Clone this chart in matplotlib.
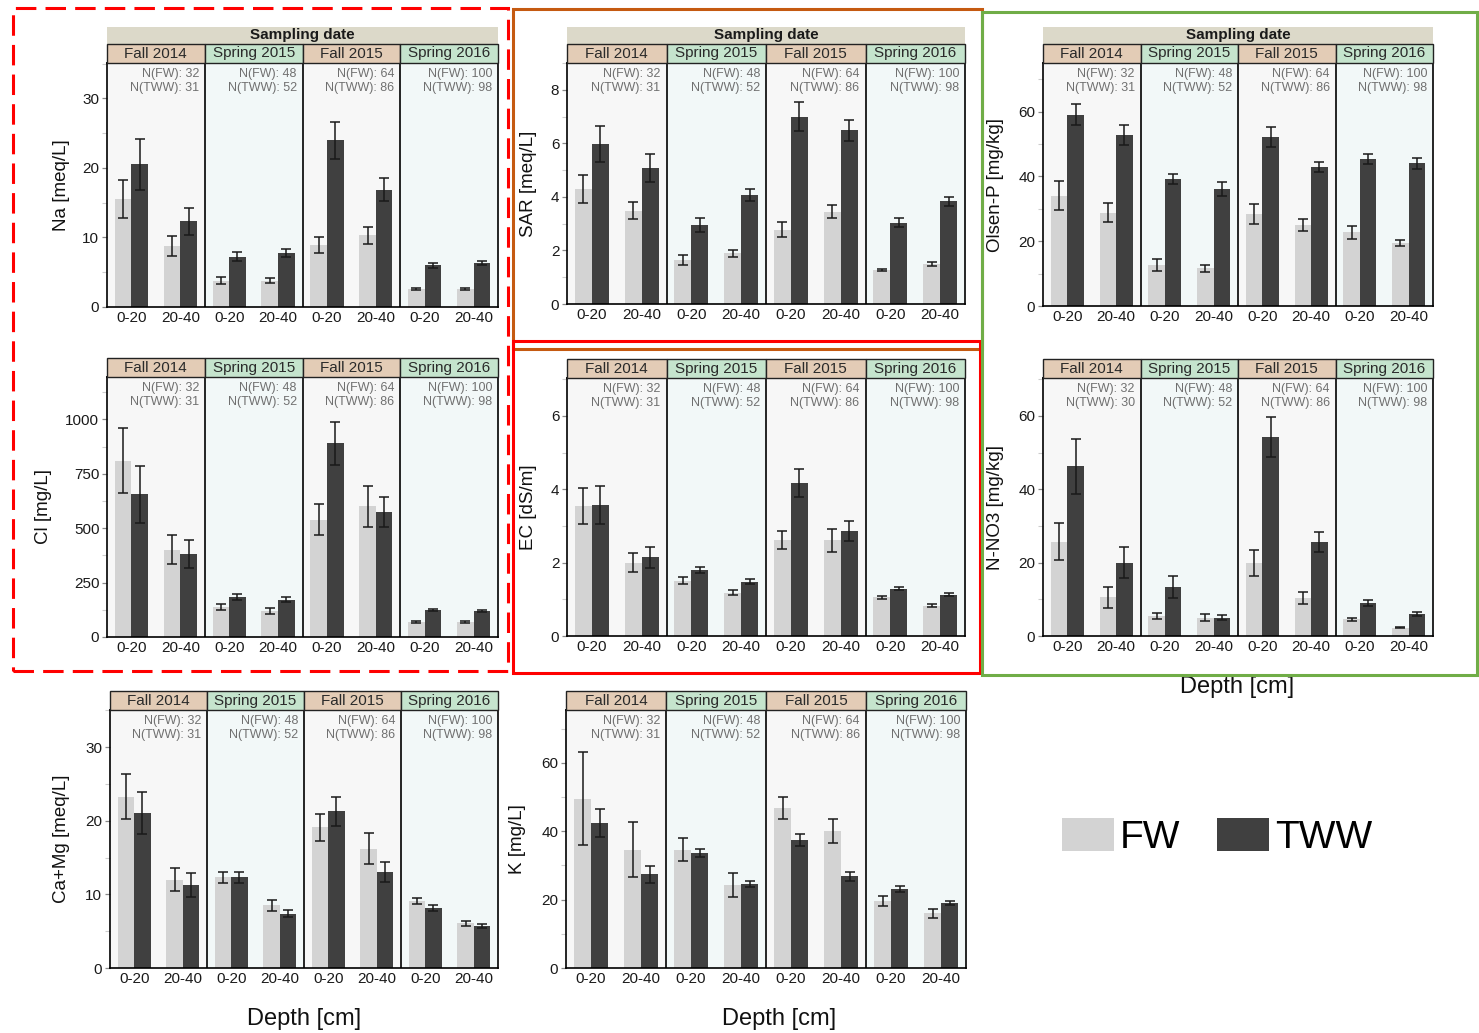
import numpy as np
import matplotlib
matplotlib.use("Agg")
import matplotlib.pyplot as plt
from matplotlib.patches import Rectangle, Patch
from matplotlib.transforms import blended_transform_factory

plt.rcParams['font.family'] = ['Liberation Sans', 'DejaVu Sans']

W, H = 1479, 1033
fig = plt.figure(figsize=(W / 100, H / 100), dpi=100)

# ---------------------------------------------------------------- data
seasons = ["Fall 2014", "Spring 2015", "Fall 2015", "Spring 2016"]
depths = ["0-20", "20-40"]
n_fw = [32, 48, 64, 100]
n_tww = [31, 52, 86, 98]
n_tww_no3 = [30, 52, 86, 98]

# order: F14 0-20, F14 20-40, S15 0-20, S15 20-40, F15 0-20, F15 20-40, S16 0-20, S16 20-40
na_fw = [15.5, 8.8, 3.8, 3.8, 8.9, 10.3, 2.6, 2.6]
na_fw_se = [2.7, 1.4, 0.55, 0.4, 1.1, 1.25, 0.1, 0.1]
na_tww = [20.5, 12.3, 7.2, 7.8, 24.0, 16.9, 6.0, 6.3]
na_tww_se = [3.6, 1.9, 0.65, 0.55, 2.65, 1.6, 0.4, 0.3]

sar_fw = [4.31, 3.48, 1.64, 1.89, 2.78, 3.45, 1.27, 1.50]
sar_fw_se = [0.52, 0.32, 0.19, 0.14, 0.29, 0.25, 0.05, 0.07]
sar_tww = [5.97, 5.07, 2.94, 4.07, 7.00, 6.48, 3.04, 3.83]
sar_tww_se = [0.68, 0.53, 0.26, 0.22, 0.53, 0.40, 0.16, 0.17]

olsenp_fw = [34.1, 28.8, 12.7, 11.6, 28.3, 25.0, 22.7, 19.5]
olsenp_fw_se = [4.6, 3.0, 1.8, 1.2, 3.1, 1.9, 2.1, 1.0]
olsenp_tww = [59.0, 52.8, 39.2, 36.1, 52.1, 43.0, 45.3, 44.0]
olsenp_tww_se = [3.2, 3.2, 1.6, 2.1, 3.0, 1.5, 1.5, 1.6]

cl_fw = [810, 402, 138, 120, 540, 601, 69, 69]
cl_fw_se = [150, 65, 15, 14, 71, 94, 3, 3]
cl_tww = [656, 380, 184, 172, 890, 575, 123, 118]
cl_tww_se = [130, 65, 12, 10, 100, 69, 5, 4]

ec_fw = [3.54, 2.00, 1.51, 1.18, 2.61, 2.61, 1.05, 0.82]
ec_fw_se = [0.49, 0.25, 0.09, 0.07, 0.24, 0.31, 0.03, 0.04]
ec_tww = [3.57, 2.14, 1.81, 1.48, 4.17, 2.86, 1.29, 1.13]
ec_tww_se = [0.52, 0.29, 0.08, 0.07, 0.39, 0.26, 0.04, 0.03]

no3_fw = [25.7, 10.5, 5.4, 5.0, 19.8, 10.4, 4.5, 2.3]
no3_fw_se = [5.1, 2.95, 0.9, 1.0, 3.5, 1.6, 0.5, 0.1]
no3_tww = [46.3, 20.0, 13.4, 5.0, 54.3, 25.6, 8.9, 6.0]
no3_tww_se = [7.5, 4.2, 3.0, 0.6, 5.4, 2.8, 0.8, 0.5]

camg_fw = [23.3, 12.0, 12.3, 8.5, 19.1, 16.2, 9.1, 6.1]
camg_fw_se = [3.0, 1.6, 0.8, 0.7, 1.8, 2.1, 0.45, 0.35]
camg_tww = [21.1, 11.3, 12.3, 7.4, 21.3, 13.0, 8.2, 5.7]
camg_tww_se = [2.85, 1.6, 0.7, 0.5, 2.0, 1.35, 0.4, 0.25]

k_fw = [49.6, 34.6, 34.6, 24.4, 46.8, 40.1, 19.5, 16.0]
k_fw_se = [13.6, 8.0, 3.4, 3.5, 3.2, 3.6, 1.5, 1.3]
k_tww = [42.4, 27.4, 33.6, 24.6, 37.5, 26.8, 23.0, 19.0]
k_tww_se = [4.2, 2.4, 1.1, 1.0, 1.8, 1.4, 0.9, 0.7]

# ---------------------------------------------------------------- style
FW_COLOR = "#d3d3d3"
TWW_COLOR = "#404040"
FALL_STRIP = "#e3ccb6"
SPRING_STRIP = "#c5e4cd"
HEADER_STRIP = "#dcd9c9"
FALL_BG = "#f7f7f7"
SPRING_BG = "#f2f8f8"
BAR_W = 0.17
GROUP_POS = np.array([0.25, 0.75])


def px_box(x0, y0, x1, y1):
    return [x0 / W, 1 - y1 / H, (x1 - x0) / W, (y1 - y0) / H]


def draw_panel(box, fw, fw_se, tww, tww_se, ylabel, ylim, major, minor,
               ntww, label_x, header=False):
    x0, y0, x1, y1 = box
    hpx = y1 - y0
    ax = fig.add_axes(px_box(*box))
    ax.set_xlim(0, 4)
    ax.set_ylim(*ylim)

    facet = np.repeat(np.arange(4), 2)
    centers = facet + np.tile(GROUP_POS, 4)
    x_fw = centers - BAR_W / 2
    x_tww = centers + BAR_W / 2

    for i, s in enumerate(seasons):
        ax.axvspan(i, i + 1, color=FALL_BG if s.startswith("Fall") else SPRING_BG,
                   lw=0, zorder=0)

    ax.bar(x_fw, fw, width=BAR_W, color=FW_COLOR, zorder=2)
    ax.bar(x_tww, tww, width=BAR_W, color=TWW_COLOR, zorder=2)
    err_kw = dict(fmt="none", ecolor="#1a1a1a", elinewidth=1.1,
                  capsize=3.6, capthick=1.1, zorder=3)
    ax.errorbar(x_fw, fw, yerr=fw_se, **err_kw)
    ax.errorbar(x_tww, tww, yerr=tww_se, **err_kw)

    for xv in (1, 2, 3):
        ax.axvline(xv, color="black", lw=1.2, zorder=4)
    for sp in ax.spines.values():
        sp.set_color("black")
        sp.set_linewidth(1.2)
        sp.set_zorder(5)

    ax.set_xticks(centers)
    ax.set_xticklabels(depths * 4)
    ax.set_yticks(major)
    ax.set_yticks(minor, minor=True)
    ax.tick_params(axis="x", length=0, pad=3, labelsize=11, labelcolor="#1a1a1a")
    ax.tick_params(axis="y", which="major", length=3.5, width=0.9, color="#888888",
                   pad=2, labelsize=11, labelcolor="#1a1a1a")
    ax.tick_params(axis="y", which="minor", length=3.5, width=0.8, color="#cccccc")

    ax.set_ylabel(ylabel, fontsize=13.5, color="#111111")
    ax.yaxis.set_label_coords((label_x - x0) / (x1 - x0), 0.5)

    trans = blended_transform_factory(ax.transData, ax.transAxes)
    sh = 19 / hpx
    for i, s in enumerate(seasons):
        ax.add_patch(Rectangle((i, 1), 1, sh, transform=trans, clip_on=False,
                               facecolor=FALL_STRIP if s.startswith("Fall") else SPRING_STRIP,
                               edgecolor="#222222", lw=1.0, zorder=6))
        ax.text(i + 0.5, 1 + sh / 2, s, transform=trans, ha="center", va="center",
                fontsize=11, color="#2a2a2a", zorder=7)
        ax.text(i + 0.94, 1 - 11 / hpx, f"N(FW): {n_fw[i]}", transform=trans,
                ha="right", va="center", fontsize=9, color="#707070", zorder=7)
        ax.text(i + 0.94, 1 - 25 / hpx, f"N(TWW): {ntww[i]}", transform=trans,
                ha="right", va="center", fontsize=9, color="#707070", zorder=7)
    if header:
        hh = 17 / hpx
        ax.add_patch(Rectangle((0, 1 + sh), 4, hh, transform=trans, clip_on=False,
                               facecolor=HEADER_STRIP, edgecolor="none", zorder=5))
        ax.text(2, 1 + sh + hh / 2, "Sampling date", transform=trans, ha="center",
                va="center", fontsize=11, fontweight="bold", color="#1a1a1a", zorder=7)
    return ax


# ---------------------------------------------------------------- panels
draw_panel((107, 63, 498, 307), na_fw, na_fw_se, na_tww, na_tww_se,
           "Na [meq/L]", (0, 35.1), [0, 10, 20, 30], [5, 15, 25, 35],
           n_tww, 70, header=True)
draw_panel((567, 63, 965, 304), sar_fw, sar_fw_se, sar_tww, sar_tww_se,
           "SAR [meq/L]", (0, 9.0), [0, 2, 4, 6, 8], [1, 3, 5, 7, 9],
           n_tww, 537, header=True)
draw_panel((1043, 63, 1433, 306), olsenp_fw, olsenp_fw_se, olsenp_tww, olsenp_tww_se,
           "Olsen-P [mg/kg]", (0, 75), [0, 20, 40, 60], [10, 30, 50, 70],
           n_tww, 1004, header=True)
draw_panel((107, 377, 498, 637), cl_fw, cl_fw_se, cl_tww, cl_tww_se,
           "Cl [mg/L]", (0, 1195), [0, 250, 500, 750, 1000], [125, 375, 625, 875, 1125],
           n_tww, 52)
draw_panel((567, 378, 965, 636), ec_fw, ec_fw_se, ec_tww, ec_tww_se,
           "EC [dS/m]", (0, 7.03), [0, 2, 4, 6], [1, 3, 5, 7],
           n_tww, 537)
draw_panel((1043, 378, 1433, 636), no3_fw, no3_fw_se, no3_tww, no3_tww_se,
           "N-NO3 [mg/kg]", (0, 70.3), [0, 20, 40, 60], [10, 30, 50, 70],
           n_tww_no3, 1004)
draw_panel((110, 710, 498, 968), camg_fw, camg_fw_se, camg_tww, camg_tww_se,
           "Ca+Mg [meq/L]", (0, 35.06), [0, 10, 20, 30], [5, 15, 25, 35],
           n_tww, 70)
draw_panel((566, 710, 966, 968), k_fw, k_fw_se, k_tww, k_tww_se,
           "K [mg/L]", (0, 75.5), [0, 20, 40, 60], [10, 30, 50, 70],
           n_tww, 526)

# ---------------------------------------------------------------- axis titles
for (cx, cy) in [(1237, 687), (304, 1019), (779, 1019)]:
    fig.text(cx / W, 1 - cy / H, "Depth [cm]", ha="center", va="center",
             fontsize=17, color="#111111")

# ---------------------------------------------------------------- legend
handles = [Patch(facecolor=FW_COLOR, edgecolor="none", label="FW"),
           Patch(facecolor=TWW_COLOR, edgecolor="none", label="TWW")]
fig.legend(handles=handles, loc="center", bbox_to_anchor=(1217 / W, 1 - 837 / H),
           ncol=2, frameon=False, fontsize=28, handlelength=1.34, handleheight=0.93,
           handletextpad=0.15, columnspacing=0.95, borderpad=0)


# ---------------------------------------------------------------- group frames
def frame(x0, y0, x1, y1, color, ls="-"):
    fig.patches.append(Rectangle((x0 / W, 1 - y1 / H), (x1 - x0) / W, (y1 - y0) / H,
                                 transform=fig.transFigure, fill=False,
                                 edgecolor=color, lw=2.2, linestyle=ls, zorder=10))


frame(513, 9, 982, 349, "#c55a11")
frame(513, 341, 980, 673, "#ff0000")
frame(982, 12, 1477, 675, "#70ad47")
frame(13, 8, 508, 671, "#ff0000", ls=(0, (6.7, 3.0)))

fig.savefig("out.png", dpi=100)
